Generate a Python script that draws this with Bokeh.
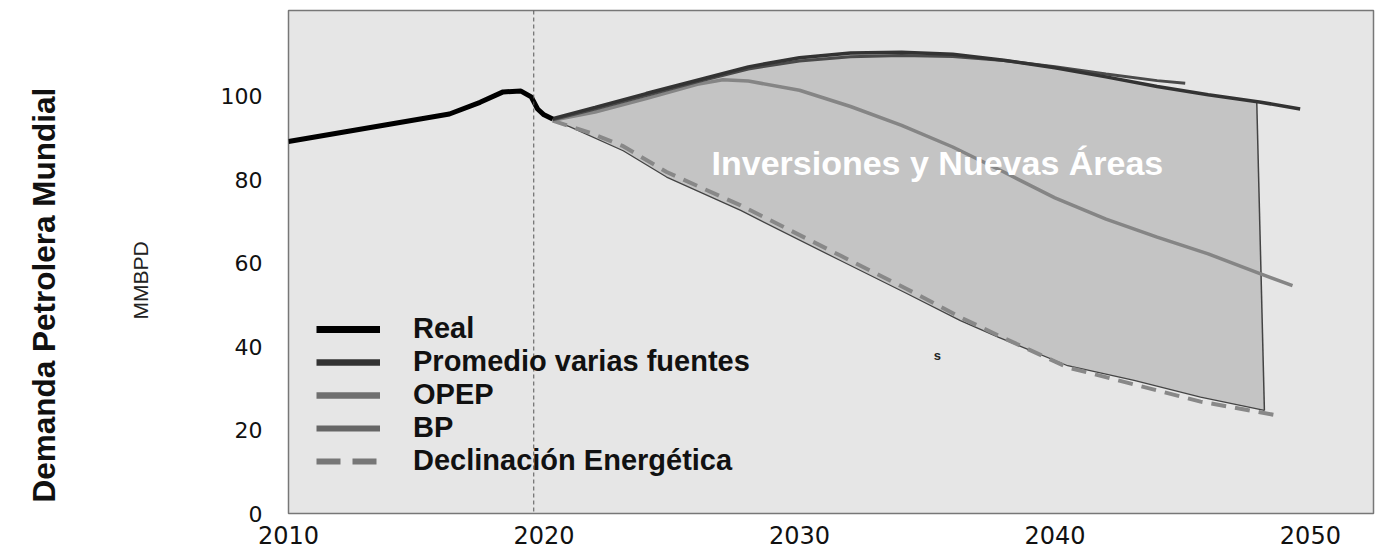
import numpy as np
from bokeh.plotting import figure
from bokeh.models import Range1d, Span, Legend, LegendItem, Label, FixedTicker, Title
from bokeh.embed import file_html
from bokeh.resources import INLINE

# ---- data ----
anio_real = [2010.0, 2016.3, 2017.5, 2018.4, 2019.1, 2019.5, 2019.75, 2020.0, 2020.34]
real = [89.1, 95.7, 98.5, 101.0, 101.2, 99.8, 96.9, 95.5, 94.5]

anio_prom = [2020.34, 2022, 2024, 2026, 2028, 2030, 2032, 2034, 2036, 2038, 2040, 2042, 2044, 2046, 2048, 2049.6]
promedio = [94.6, 97.3, 100.6, 103.8, 107.0, 109.2, 110.3, 110.5, 110.0, 108.6, 106.8, 104.6, 102.3, 100.3, 98.6, 96.9]

anio_bp = [2020.34, 2022, 2024, 2026, 2028, 2030, 2032, 2034, 2036, 2038, 2040, 2042, 2044, 2045.1]
bp = [94.3, 96.9, 100.1, 103.4, 106.5, 108.4, 109.4, 109.7, 109.5, 108.5, 107.0, 105.3, 103.7, 103.1]

anio_opep = [2020.34, 2022, 2024, 2026, 2027, 2028, 2030, 2032, 2034, 2036, 2038, 2040, 2042, 2044, 2046, 2048, 2049.3]
opep = [94.2, 96.2, 99.4, 102.8, 103.9, 103.6, 101.4, 97.5, 93.0, 87.8, 81.8, 75.6, 70.5, 66.2, 62.2, 57.5, 54.6]

anio_decl = [2020.34, 2021.8, 2023.1, 2024.8, 2027.7, 2031.6, 2034.2, 2036.3, 2037.8, 2040.5, 2043.1, 2045.7, 2048.7]
declinacion = [94.1, 91.2, 88.0, 81.8, 73.8, 61.8, 53.8, 47.0, 42.6, 35.0, 30.9, 26.8, 23.5]

# lower edge of the shaded area "Inversiones y Nuevas Áreas"
anio_lim = [2020.34, 2021.0, 2023.1, 2024.8, 2027.7, 2031.6, 2034.2, 2036.3, 2037.8, 2040.5, 2043.1, 2045.7, 2048.2]
limite_inf = [94.1, 92.7, 86.9, 80.6, 72.6, 60.6, 52.7, 46.2, 42.2, 35.4, 31.9, 27.9, 24.7]
anio_corte = 2047.9          # right edge of the shaded area (top)
anio_pandemia = 2019.6       # dashed vertical marker

x_ticks = [2010, 2020, 2030, 2040, 2050]
y_ticks = [0, 20, 40, 60, 80, 100]

etiquetas = ["Real", "Promedio varias fuentes", "OPEP", "BP", "Declinación Energética"]
texto_area = "Inversiones y Nuevas Áreas"
titulo = "Demanda Petrolera Mundial"
unidad = "MMBPD"

# ---- figure ----
p = figure(frame_width=1085, frame_height=503,
           x_range=Range1d(2010, 2052.47), y_range=Range1d(0, 120.5),
           output_backend="svg", toolbar_location=None, title=None,
           min_border_left=288, min_border_right=3, min_border_top=10, min_border_bottom=40,
           background_fill_color="#e6e6e6", border_fill_color="white",
           outline_line_color="#777777", outline_line_width=1.5)

# inner left title: unit
p.add_layout(Title(text=unidad, text_font="Liberation Sans", text_font_size="21px",
                   text_font_style="normal", text_color="#222222",
                   align="left", offset=194, standoff=131), "left")
# outer left title
p.add_layout(Title(text=titulo, text_font="Liberation Sans", text_font_size="31.5px",
                   text_font_style="bold", text_color="#111111",
                   align="left", offset=11, standoff=0), "left")

p.grid.visible = False

for ax in (p.xaxis[0], p.yaxis[0]):
    ax.major_tick_in = 0
    ax.major_tick_out = 0
    ax.minor_tick_in = 0
    ax.minor_tick_out = 0
    ax.axis_line_color = None
    ax.major_label_text_font = "DejaVu Sans"
    ax.major_label_text_color = "#111111"

p.xaxis.ticker = FixedTicker(ticks=x_ticks)
p.xaxis.major_label_text_font_size = "24px"
p.xaxis.major_label_standoff = 12

p.yaxis.ticker = FixedTicker(ticks=y_ticks)
p.yaxis.major_label_text_font_size = "22px"
p.yaxis.major_label_standoff = 26

# shaded area
top_x = [x for x in anio_prom if x < anio_corte] + [anio_corte]
top_y = [y for x, y in zip(anio_prom, promedio) if x < anio_corte] + [float(np.interp(anio_corte, anio_prom, promedio))]
area_x = top_x + anio_lim[::-1]
area_y = top_y + limite_inf[::-1]
p.patch(area_x, area_y, fill_color="#c4c4c4", line_color=None)
p.line(anio_lim, limite_inf, line_color="#444444", line_width=1.3)
p.line([anio_corte, anio_lim[-1]], [top_y[-1], limite_inf[-1]], line_color="#444444", line_width=1.5)

p.add_layout(Span(location=anio_pandemia, dimension="height", line_color="#555555",
                  line_width=1, line_dash="4 3"))

p.line(anio_decl, declinacion, line_color="#888888", line_width=4, line_dash="15 9")
p.line(anio_opep, opep, line_color="#858585", line_width=3.5)
p.line(anio_bp, bp, line_color="#4a4a4a", line_width=3)
p.line(anio_prom, promedio, line_color="#333333", line_width=3.5)
p.line(anio_real, real, line_color="#000000", line_width=5)

p.add_layout(Label(x=2035.4, y=84.0, text=texto_area, text_align="center", text_baseline="middle",
                   text_color="white", text_font="Liberation Sans", text_font_size="34px",
                   text_font_style="bold"))
p.add_layout(Label(x=2035.4, y=37.8, text="s", text_align="center", text_baseline="middle",
                   text_color="#222222", text_font="Liberation Sans", text_font_size="13px",
                   text_font_style="bold"))

# legend swatches: one-point renderers (draw nothing in the plot), thicker like the reference legend
leg_real = p.line(anio_real[:1], real[:1], line_color="#000000", line_width=7)
leg_prom = p.line(anio_prom[:1], promedio[:1], line_color="#333333", line_width=6.5)
leg_opep = p.line(anio_opep[:1], opep[:1], line_color="#6f6f6f", line_width=6.5)
leg_bp = p.line(anio_bp[:1], bp[:1], line_color="#666666", line_width=6)
leg_decl = p.line(anio_decl[:1], declinacion[:1], line_color="#777777", line_width=6, line_dash="24 12")

legend = Legend(items=[LegendItem(label=l, renderers=[r]) for l, r in
                       zip(etiquetas, [leg_real, leg_prom, leg_opep, leg_bp, leg_decl])],
                location=(28, 36), orientation="vertical",
                background_fill_alpha=0, border_line_color=None,
                padding=0, margin=0, spacing=0,
                glyph_width=64, glyph_height=32, label_height=32, label_standoff=33,
                label_text_font="Liberation Sans", label_text_font_size="29px",
                label_text_font_style="bold", label_text_color="#111111")
p.add_layout(legend)

open("out.html", "w").write(file_html(p, INLINE))
